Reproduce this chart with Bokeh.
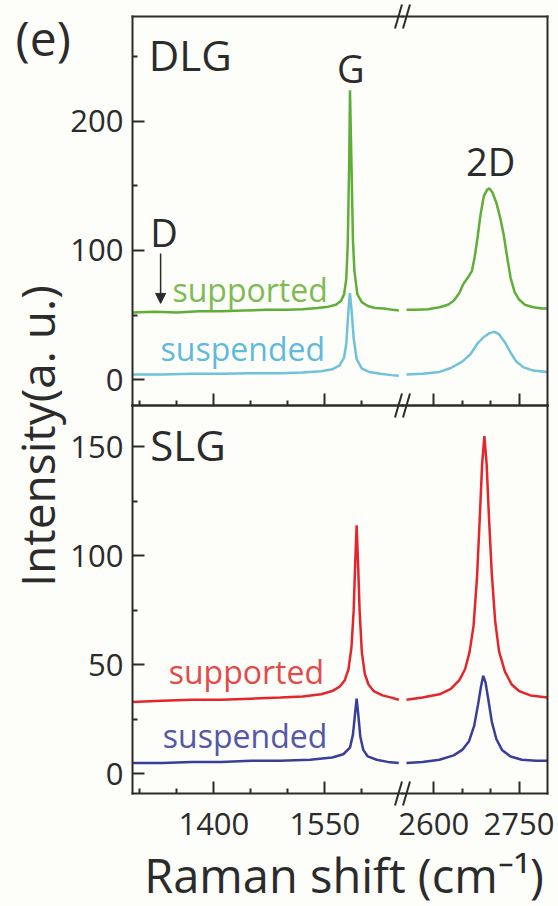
import math

from bokeh.embed import file_html
from bokeh.models import Arrow, FixedTicker, Label, LinearAxis, NormalHead, Range1d
from bokeh.plotting import figure
from bokeh.resources import INLINE

# ---------------------------------------------------------------------------
# Raman spectra, intensity in a.u.; two windows: G band and 2D band (cm^-1)
# ---------------------------------------------------------------------------
# bilayer graphene (DLG), supported
DLG_SUP_G_X = [1290, 1320, 1350, 1380, 1410, 1440, 1470, 1500, 1520, 1540, 1555, 1565,
               1572, 1576, 1579, 1581, 1583, 1584, 1586, 1588, 1590, 1594, 1600, 1608,
               1618, 1630, 1642, 1650]
DLG_SUP_G_Y = [52, 52.5, 52, 53, 53, 53.5, 54, 54, 54.5, 55.5, 56.5, 58,
               61, 66, 78, 105, 170, 224, 168, 108, 84, 66, 60, 57,
               55.5, 55, 54, 53.5]
DLG_SUP_2D_X = [2552, 2570, 2590, 2610, 2625, 2635, 2645, 2652, 2660, 2667, 2672, 2677,
                2682, 2688, 2694, 2698, 2703, 2710, 2717, 2723, 2729, 2735, 2742, 2750,
                2760, 2775, 2790, 2800]
DLG_SUP_2D_Y = [54, 54, 54.5, 56, 58, 61, 67, 74, 79, 84, 95, 110,
                127, 142, 147, 148, 145, 137, 125, 112, 95, 79, 68, 62,
                58, 56, 55, 55]

# bilayer graphene (DLG), suspended
DLG_SUS_G_X = [1290, 1330, 1370, 1410, 1450, 1490, 1520, 1545, 1560, 1570, 1576, 1579,
               1581, 1583, 1584, 1586, 1589, 1593, 1600, 1610, 1625, 1640, 1650]
DLG_SUS_G_Y = [4, 4, 4.5, 4.5, 5, 5, 5.5, 6.5, 8, 11, 17, 28,
               45, 62, 67, 55, 32, 16, 8.5, 6, 4.5, 3.5, 3]
DLG_SUS_2D_X = [2552, 2580, 2610, 2630, 2650, 2665, 2677, 2688, 2698, 2707, 2715, 2725,
                2735, 2745, 2758, 2775, 2800]
DLG_SUS_2D_Y = [4, 4.5, 6, 9, 14, 20, 28, 33, 36, 37, 35, 29,
                21, 14, 9.5, 7, 6]

# single-layer graphene (SLG), supported
SLG_SUP_G_X = [1290, 1330, 1370, 1410, 1450, 1490, 1520, 1545, 1560, 1570, 1577, 1582,
               1586, 1589, 1591, 1593, 1595, 1597, 1600, 1604, 1609, 1616, 1628, 1640,
               1650]
SLG_SUP_G_Y = [33, 33.5, 34, 34, 34.5, 35, 35.5, 36.5, 38, 40, 43, 48,
               58, 75, 96, 114, 96, 75, 56, 46, 41, 38, 36, 35,
               34]
SLG_SUP_2D_X = [2552, 2580, 2610, 2630, 2645, 2655, 2663, 2670, 2676, 2681, 2685, 2689,
                2693, 2697, 2702, 2708, 2715, 2725, 2737, 2750, 2770, 2800]
SLG_SUP_2D_Y = [34, 35, 36.5, 39, 43, 48, 56, 68, 90, 118, 142, 155,
                142, 118, 92, 70, 56, 47, 41, 38, 36, 35]

# single-layer graphene (SLG), suspended
SLG_SUS_G_X = [1290, 1330, 1370, 1410, 1450, 1490, 1530, 1560, 1575, 1584, 1588, 1591,
               1593, 1595, 1598, 1602, 1608, 1620, 1635, 1650]
SLG_SUS_G_Y = [5, 5, 5.5, 5.5, 6, 6, 6.5, 7.5, 9, 12, 18, 28,
               34.5, 28, 17, 11, 8, 6.5, 5.5, 5]
SLG_SUS_2D_X = [2552, 2580, 2610, 2635, 2650, 2662, 2671, 2678, 2683, 2687, 2691, 2696,
                2702, 2710, 2720, 2735, 2755, 2780, 2800]
SLG_SUS_2D_Y = [5, 5.5, 6.5, 8.5, 11, 15, 22, 32, 40, 45, 42, 34,
                24, 16, 11, 8, 6.5, 6, 6]

# axis windows and ticks
G_WINDOW = (1290, 1655)
D2_WINDOW = (2545, 2800)
G_TICKS = [1400, 1550]
G_MINOR = [1300, 1350, 1450, 1500, 1600]
D2_TICKS = [2600, 2750]
D2_MINOR = [2650, 2700]
DLG_LIMITS = (-20, 281)
DLG_TICKS = [0, 100, 200]
DLG_MINOR = [50, 150, 250]
SLG_LIMITS = (-9, 169)
SLG_TICKS = [0, 50, 100, 150]
SLG_MINOR = [25, 75, 125]

# page geometry (pixels from the top-left corner)
W, H = 558, 906
BOX_L, BREAK_X, BOX_R = 132, 402, 547
BOX_T, DIVIDER_Y, BOX_B = 16, 405, 793

FONT = "Open Sans"
INK = "#2b2b2b"
BG = "#fdfdfa"

GREEN, GREEN_TXT = "#5fae37", "#7dbb52"
CYAN, CYAN_TXT = "#70c2d8", "#5fbadc"
RED, RED_TXT = "#e4262c", "#e34a4a"
BLUE, BLUE_TXT = "#3b3e98", "#5357a6"

# The frame fills the whole page; every axis is pinned with fixed_location.
# G window -> default x range, 2D window -> "d2"; SLG -> default y, DLG -> "dlg".
kx_g = (BREAK_X - BOX_L) / (G_WINDOW[1] - G_WINDOW[0])
kx_d = (BOX_R - BREAK_X) / (D2_WINDOW[1] - D2_WINDOW[0])
ky_s = (BOX_B - DIVIDER_Y) / (SLG_LIMITS[1] - SLG_LIMITS[0])
ky_d = (DIVIDER_Y - BOX_T) / (DLG_LIMITS[1] - DLG_LIMITS[0])

x_g = Range1d(G_WINDOW[0] - BOX_L / kx_g, G_WINDOW[0] + (W - BOX_L) / kx_g)
x_d2 = Range1d(D2_WINDOW[0] - BREAK_X / kx_d, D2_WINDOW[1] + (W - BOX_R) / kx_d)
y_slg = Range1d(SLG_LIMITS[0] - (H - BOX_B) / ky_s, SLG_LIMITS[1] + DIVIDER_Y / ky_s)
y_dlg = Range1d(DLG_LIMITS[0] - (H - DIVIDER_Y) / ky_d, DLG_LIMITS[1] + BOX_T / ky_d)

p = figure(width=W, height=H, x_range=x_g, y_range=y_slg,
           x_axis_type=None, y_axis_type=None,
           output_backend="svg", toolbar_location=None,
           min_border=0, min_border_left=0, min_border_right=0,
           min_border_top=0, min_border_bottom=0)
p.extra_x_ranges = {"d2": x_d2}
p.extra_y_ranges = {"dlg": y_dlg}
p.background_fill_color = BG
p.border_fill_color = BG
p.outline_line_color = None


def axis(side, ticks=(), minor=(), major_len=12, minor_len=5, standoff=9, **kw):
    ax = LinearAxis(ticker=FixedTicker(ticks=list(ticks), minor_ticks=list(minor)), **kw)
    ax.axis_line_color = INK
    ax.axis_line_width = 2
    ax.axis_line_cap = "square"
    ax.major_tick_line_color = INK
    ax.minor_tick_line_color = INK
    ax.major_tick_line_width = 2
    ax.minor_tick_line_width = 2
    ax.major_tick_in = major_len
    ax.major_tick_out = 0
    ax.minor_tick_in = minor_len
    ax.minor_tick_out = 0
    ax.major_label_text_font = FONT
    ax.major_label_text_font_size = "31px"
    ax.major_label_text_color = INK
    ax.major_label_standoff = standoff
    p.add_layout(ax, side)


# bottom axis, one piece per window
axis("below", G_TICKS, G_MINOR, standoff=19,
     bounds=G_WINDOW, fixed_location=SLG_LIMITS[0])
axis("below", D2_TICKS, D2_MINOR, standoff=19, x_range_name="d2",
     bounds=D2_WINDOW, fixed_location=SLG_LIMITS[0])

# panel divider: tick marks only
axis("below", (), G_TICKS, minor_len=12, bounds=G_WINDOW, fixed_location=SLG_LIMITS[1])
axis("below", (), G_MINOR, bounds=G_WINDOW, fixed_location=SLG_LIMITS[1])
axis("below", (), D2_TICKS, minor_len=12, x_range_name="d2",
     bounds=D2_WINDOW, fixed_location=SLG_LIMITS[1])
axis("below", (), D2_MINOR, x_range_name="d2",
     bounds=D2_WINDOW, fixed_location=SLG_LIMITS[1])

# top edge
axis("above", y_range_name="dlg", bounds=G_WINDOW, fixed_location=DLG_LIMITS[1])
axis("above", x_range_name="d2", y_range_name="dlg", bounds=D2_WINDOW,
     fixed_location=DLG_LIMITS[1])

# left axes, one per panel
axis("left", SLG_TICKS, SLG_MINOR, bounds=SLG_LIMITS, fixed_location=G_WINDOW[0])
axis("left", DLG_TICKS, DLG_MINOR, y_range_name="dlg",
     bounds=DLG_LIMITS, fixed_location=G_WINDOW[0])

# right edge
axis("right", x_range_name="d2", bounds=SLG_LIMITS, fixed_location=D2_WINDOW[1])
axis("right", x_range_name="d2", y_range_name="dlg", bounds=DLG_LIMITS,
     fixed_location=D2_WINDOW[1])

# axis-break marks: a pair of slanted strokes where each horizontal edge jumps
# from the G window to the 2D window (half-width/half-height given in pixels)
SLASH_GAP, SLASH_DX, SLASH_DY = 4.0, 3.5, 12.0
for yr, y_edge, ky in (("dlg", DLG_LIMITS[1], ky_d),
                       ("dlg", DLG_LIMITS[0], ky_d),
                       ("default", SLG_LIMITS[0], ky_s)):
    x0, x1, y0, y1 = [], [], [], []
    for gap in (-SLASH_GAP, SLASH_GAP):
        x0.append(G_WINDOW[1] + (gap - SLASH_DX) / kx_g)
        x1.append(G_WINDOW[1] + (gap + SLASH_DX) / kx_g)
        y0.append(y_edge - SLASH_DY / ky)
        y1.append(y_edge + SLASH_DY / ky)
    p.segment(x0=x0, y0=y0, x1=x1, y1=y1, line_color=INK, line_width=2,
              y_range_name=yr)

# spectra
curves = [
    (DLG_SUP_G_X, DLG_SUP_G_Y, DLG_SUP_2D_X, DLG_SUP_2D_Y, GREEN, "dlg"),
    (DLG_SUS_G_X, DLG_SUS_G_Y, DLG_SUS_2D_X, DLG_SUS_2D_Y, CYAN, "dlg"),
    (SLG_SUP_G_X, SLG_SUP_G_Y, SLG_SUP_2D_X, SLG_SUP_2D_Y, RED, "default"),
    (SLG_SUS_G_X, SLG_SUS_G_Y, SLG_SUS_2D_X, SLG_SUS_2D_Y, BLUE, "default"),
]
for gx, gy, dx, dy, color, yr in curves:
    p.line(gx, gy, line_color=color, line_width=2.5, y_range_name=yr)
    p.line(dx, dy, line_color=color, line_width=2.5, x_range_name="d2", y_range_name=yr)


def label(text, x, y, size, color=INK, align="left", xr="default", yr="default", angle=0.0):
    p.add_layout(Label(x=x, y=y, text=text, x_range_name=xr, y_range_name=yr,
                       text_font=FONT, text_font_size=size, text_color=color,
                       text_align=align, text_baseline="middle", angle=angle))


label("(e)", 1132, 265, "48px", yr="dlg")
label("DLG", 1312, 251.5, "42px", yr="dlg")
label("G", 1585, 241.5, "38px", align="center", yr="dlg")
label("2D", 2700, 169.5, "38px", align="center", xr="d2", yr="dlg")
label("D", 1314, 114, "38px", yr="dlg")
p.add_layout(Arrow(end=NormalHead(size=10, fill_color=INK, line_color=INK),
                   x_start=1328, y_start=97.6, x_end=1328, y_end=59,
                   line_color=INK, line_width=1.5, y_range_name="dlg"))
label("supported", 1344, 69.7, "32px", GREEN_TXT, yr="dlg")
label("suspended", 1328, 24, "32px", CYAN_TXT, yr="dlg")

label("SLG", 1314, 151, "42px")
label("supported", 1339, 47, "32px", RED_TXT)
label("suspended", 1331, 17.6, "32px", BLUE_TXT)

label("Intensity(a. u.)", 1161, 155, "46px", align="center", angle=math.pi / 2)
label("Raman shift (cm\u207b\u00b9)", 1576, -46.5, "47px", align="center")

open("out.html", "w").write(file_html(p, INLINE))
